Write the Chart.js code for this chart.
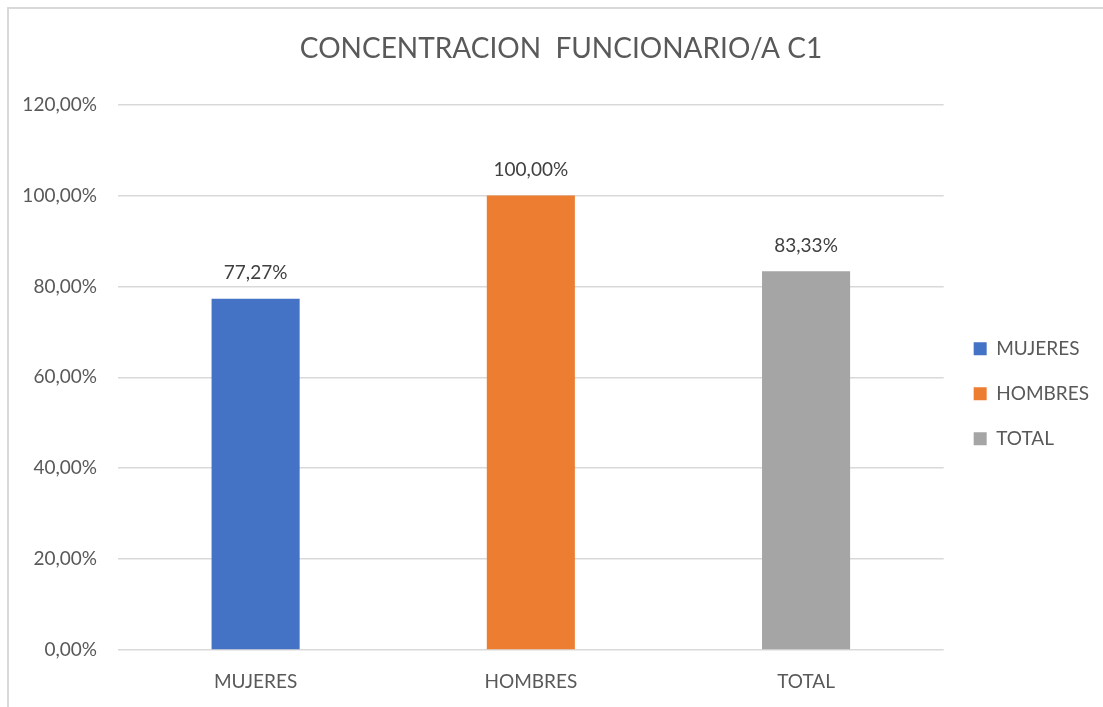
<!DOCTYPE html>
<html lang="es">
<head>
    <meta charset="UTF-8">
    <title>CONCENTRACION FUNCIONARIO/A C1</title>
    <script src="https://cdn.jsdelivr.net/npm/chart.js@4.4.0/dist/chart.umd.min.js"></script>
    <style>
        body {
            margin: 0;
            padding: 0;
            background: #ffffff;
            overflow: hidden;
        }
        .frame {
            position: absolute;
            left: 7px;
            top: 7px;
            width: 1200px;
            height: 800px;
            border-left: 2px solid #d9d9d9;
            border-top: 2px solid #d9d9d9;
        }
        .wrap {
            position: absolute;
            left: 0;
            top: 0;
            width: 1103px;
            height: 707px;
        }
    </style>
</head>
<body>
    <div class="frame"></div>
    <div class="wrap">
        <canvas id="chart" width="1103" height="707"></canvas>
    </div>

    <script>
        const categories = ['MUJERES', 'HOMBRES', 'TOTAL'];
        const values = [77.27, 100, 83.33];
        const barColors = ['#4472C4', '#ED7D31', '#A5A5A5'];
        const yTicks = [0, 20, 40, 60, 80, 100, 120];

        const fontFamily = "Lato, 'Open Sans', sans-serif";
        const textColor = '#595959';

        function pct(v) {
            return v.toFixed(2).replace('.', ',') + '%';
        }

        // etiquetas de datos encima de cada barra
        const barLabels = {
            id: 'barLabels',
            afterDatasetsDraw(chart) {
                const ctx = chart.ctx;
                const meta = chart.getDatasetMeta(0);
                ctx.save();
                ctx.font = '19px ' + fontFamily;
                ctx.fillStyle = '#404040';
                ctx.textAlign = 'center';
                ctx.textBaseline = 'bottom';
                meta.data.forEach((bar, i) => {
                    ctx.fillText(pct(values[i]), bar.x, bar.y - 16);
                });
                ctx.restore();
            }
        };

        // pequeños ajustes de posición del título y la leyenda
        const nudge = {
            id: 'nudge',
            afterLayout(chart) {
                chart.titleBlock.left += 19;
                chart.legend.left += 4;
            }
        };

        new Chart(document.getElementById('chart'), {
            type: 'bar',
            data: {
                labels: categories,
                datasets: [{
                    label: 'Concentración',
                    data: values,
                    backgroundColor: barColors,
                    borderWidth: 0,
                    categoryPercentage: 1,
                    barPercentage: 0.32
                }]
            },
            options: {
                responsive: false,
                animation: false,
                layout: {
                    padding: { left: 8, right: 8, top: 0, bottom: 0 }
                },
                plugins: {
                    title: {
                        display: true,
                        text: 'CONCENTRACION  FUNCIONARIO/A C1',
                        color: textColor,
                        font: { family: fontFamily, size: 28, weight: 'normal' },
                        padding: { top: 32, bottom: 39 }
                    },
                    legend: {
                        position: 'right',
                        align: 'center',
                        fullSize: false,
                        // título vacío: sólo empuja los elementos hacia abajo
                        title: {
                            display: true,
                            text: ' ',
                            font: { size: 20 },
                            padding: { top: 9, bottom: 0 }
                        },
                        labels: {
                            color: textColor,
                            font: { family: fontFamily, size: 19 },
                            boxWidth: 13,
                            boxHeight: 13,
                            padding: 26,
                            generateLabels: (chart) => categories.map((c, i) => ({
                                text: c,
                                fillStyle: barColors[i],
                                strokeStyle: barColors[i],
                                lineWidth: 0,
                                fontColor: textColor,
                                index: i
                            }))
                        }
                    },
                    tooltip: { enabled: false }
                },
                scales: {
                    x: {
                        afterFit: (scale) => {
                            scale.height = 57;
                        },
                        grid: { display: false, drawTicks: false },
                        border: { display: false },
                        ticks: {
                            color: textColor,
                            font: { family: fontFamily, size: 19 },
                            padding: 20
                        }
                    },
                    y: {
                        min: 0,
                        max: 120,
                        afterBuildTicks: (scale) => {
                            scale.ticks = yTicks.map(v => ({ value: v }));
                        },
                        afterFit: (scale) => {
                            scale.width = 110;
                        },
                        grid: {
                            color: '#d9d9d9',
                            lineWidth: 1.5,
                            drawTicks: false
                        },
                        border: { display: false },
                        ticks: {
                            color: textColor,
                            font: { family: fontFamily, size: 19 },
                            padding: 21,
                            callback: (v) => pct(v)
                        }
                    }
                }
            },
            plugins: [barLabels, nudge]
        });
    </script>
</body>
</html>
